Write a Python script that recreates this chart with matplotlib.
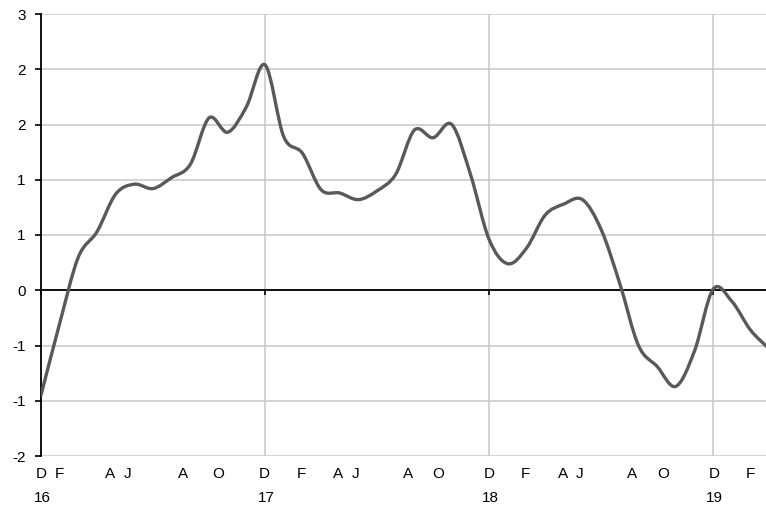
"""Smoothed monthly line chart, Dec 2015 - Mar 2019, with Excel-style axis labels."""

from __future__ import annotations

import matplotlib

matplotlib.use("Agg")

import matplotlib.pyplot as plt
import numpy as np
from matplotlib.patches import PathPatch
from matplotlib.path import Path

# monthly values, month 0 = Dec 2015
months = list(range(40))
values = [
    -0.95, -0.30, 0.30, 0.53, 0.87, 0.96, 0.92, 1.02, 1.14, 1.56, 1.43, 1.66,
    2.04, 1.39, 1.24, 0.91, 0.88, 0.82, 0.90, 1.05, 1.45, 1.38, 1.50, 1.05,
    0.46, 0.24, 0.38, 0.68, 0.78, 0.82, 0.55, 0.06, -0.50, -0.69, -0.87, -0.55,
    0.01, -0.10, -0.36, -0.53,
]

y_ticks = [-1.5, -1.0, -0.5, 0.0, 0.5, 1.0, 1.5, 2.0, 2.5]
y_labels = ["-2", "-1", "-1", "0", "1", "1", "2", "2", "3"]
year_ticks = [0, 12, 24, 36]

month_letters = ["D", "F", "A", "J", "A", "O",
                 "D", "F", "A", "J", "A", "O",
                 "D", "F", "A", "J", "A", "O",
                 "D", "F"]
month_letter_pos = [0.0, 0.98, 3.7, 4.64, 7.59, 9.47,
                    11.96, 13.97, 15.89, 16.82, 19.64, 21.28,
                    24.0, 25.93, 27.95, 28.84, 31.68, 33.34,
                    36.07, 37.98]
year_labels = ["16", "17", "18", "19"]
year_label_pos = [0.05, 12.05, 24.05, 36.05]

LINE_COLOR = "#595959"
GRID_COLOR = "#c6c6c6"


def _smooth_path(x, y) -> Path:
    # Bezier segments with Catmull-Rom style control points (like Excel's smoothed line)
    pts = np.column_stack([x, y]).astype(float)
    n = len(pts)
    verts = [pts[0]]
    codes = [Path.MOVETO]
    for i in range(n - 1):
        p0 = pts[max(i - 1, 0)]
        p1 = pts[i]
        p2 = pts[i + 1]
        p3 = pts[min(i + 2, n - 1)]
        c1 = p1 + (p2 - p0) / 6.0
        c2 = p2 - (p3 - p1) / 6.0
        verts += [c1, c2, p2]
        codes += [Path.CURVE4] * 3
    return Path(verts, codes)


def main() -> None:
    plt.rcParams["font.family"] = ["Liberation Sans", "DejaVu Sans"]
    fig = plt.figure(figsize=(7.66, 5.08), dpi=100)
    ax = fig.add_axes([41 / 766, 52 / 508, 725 / 766, 442 / 508])

    ax.set_xlim(0, 38.83)
    ax.set_ylim(-1.5, 2.5)

    ax.set_yticks(y_ticks)
    ax.set_yticklabels(y_labels)
    ax.set_xticks(year_ticks)
    ax.set_xticklabels([])

    ax.grid(True, color=GRID_COLOR, linewidth=1.1, zorder=0)
    ax.set_axisbelow(True)

    for side in ("top", "right"):
        ax.spines[side].set_visible(False)
    ax.spines["left"].set_linewidth(1.3)
    ax.spines["left"].set_color("black")
    ax.spines["bottom"].set_position(("data", 0))
    ax.spines["bottom"].set_linewidth(1.3)
    ax.spines["bottom"].set_color("black")
    ax.spines["bottom"].set_zorder(2)

    ax.tick_params(axis="y", direction="out", length=4, width=1.2, pad=7, labelsize=11)
    ax.tick_params(axis="x", direction="out", length=3.5, width=1.2)

    patch = PathPatch(_smooth_path(months, values), facecolor="none", edgecolor=LINE_COLOR,
                      linewidth=2.4, zorder=3, capstyle="round", joinstyle="round")
    ax.add_patch(patch)

    trans = ax.get_xaxis_transform()
    for pos, txt in zip(month_letter_pos, month_letters):
        ax.text(pos, -0.041, txt, transform=trans, ha="center", va="center", fontsize=11)
    for pos, txt in zip(year_label_pos, year_labels):
        ax.text(pos, -0.095, txt, transform=trans, ha="center", va="center", fontsize=11)

    fig.savefig("out.png", dpi=100)
    plt.close(fig)


if __name__ == "__main__":
    main()
